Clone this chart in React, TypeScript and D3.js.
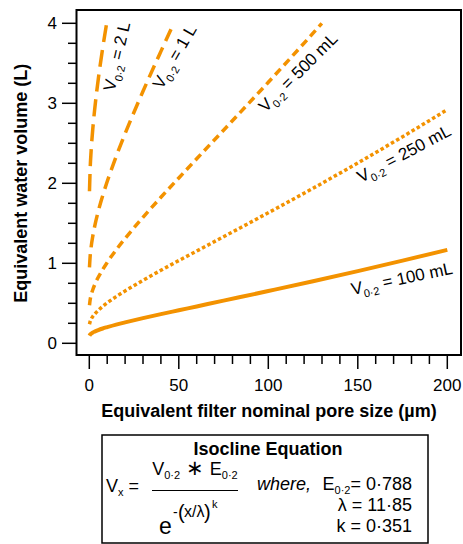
import * as d3 from 'd3';

/* ── data ── */
const poreSize = [0.1, 0.5, 1, 2, 3, 5, 7.5, 10, 15, 20, 30, 40, 50, 60, 75, 100, 125, 150, 175, 200];
const vol100 = [0.095, 0.11, 0.12, 0.135, 0.146, 0.165, 0.185, 0.202, 0.234, 0.262, 0.315, 0.365, 0.413, 0.461, 0.533, 0.653, 0.775, 0.902, 1.033, 1.168];
const vol250 = [0.238, 0.274, 0.3, 0.337, 0.365, 0.412, 0.462, 0.505, 0.584, 0.655, 0.787, 0.912, 1.034, 1.153, 1.332, 1.632, 1.938, 2.255, 2.582, 2.921];
const pore500 = [0.1, 0.5, 1, 2, 3, 5, 7.5, 10, 15, 20, 30, 40, 50, 60, 75, 100, 125, 129.9];
const vol500 = [0.475, 0.548, 0.6, 0.673, 0.731, 0.825, 0.923, 1.011, 1.168, 1.31, 1.575, 1.825, 2.067, 2.307, 2.664, 3.263, 3.877, 4.0];
const pore1L = [0.1, 0.5, 1, 2, 3, 5, 7.5, 10, 15, 20, 30, 40, 47.2];
const vol1L = [0.95, 1.095, 1.199, 1.346, 1.461, 1.65, 1.847, 2.022, 2.335, 2.621, 3.15, 3.649, 4.0];
const pore2L = [0.1, 0.5, 1, 2, 3, 5, 7.5, 9.7];
const vol2L = [1.9, 2.191, 2.398, 2.692, 2.922, 3.299, 3.694, 4.0];

const xTicks = [0, 50, 100, 150, 200];
const yTicks = [0, 1, 2, 3, 4];

const series = [
  { name: '100 mL', xs: poreSize, ys: vol100, dash: null, width: 4 },
  { name: '250 mL', xs: poreSize, ys: vol250, dash: '3.5,2.5', width: 3.5 },
  { name: '500 mL', xs: pore500, ys: vol500, dash: '8,5', width: 3.5 },
  { name: '1 L', xs: pore1L, ys: vol1L, dash: '13,7', width: 3.5 },
  { name: '2 L', xs: pore2L, ys: vol2L, dash: '17,8', width: 3.5 },
];

// label anchors (baseline start of the "V") and rotation
const labelPos = [
  { name: '100 mL', x: 352.5, y: 295, rot: -12 },
  { name: '250 mL', x: 361, y: 183, rot: -28 },
  { name: '500 mL', x: 265.5, y: 113, rot: -45 },
  { name: '1 L', x: 162, y: 90, rot: -60 },
  { name: '2 L', x: 114.5, y: 92, rot: -77 },
];

const ORANGE = '#f39200';
const FONT = 'Liberation Sans, Arial, Helvetica, sans-serif';

export default function App() {
  const x = d3.scaleLinear().domain([0, 200]).range([89.3, 447.3]);
  const y = d3.scaleLinear().domain([0, 4]).range([343.3, 23.3]);
  const xMinor = d3.range(0, 201, 10).filter(v => v % 50 !== 0);
  const yMinor = d3.range(0, 4.01, 0.25).filter(v => v % 1 !== 0);

  const line = d3.line<[number, number]>()
    .x(d => x(d[0]))
    .y(d => y(d[1]))
    .curve(d3.curveMonotoneX);

  const frameBottom = 355;

  return (
    <svg width={463} height={544} style={{ position: 'absolute', left: 0, top: 0, background: '#fff' }}
      fontFamily={FONT}>
      {/* curves */}
      {series.map(s => (
        <path key={s.name}
          d={line(s.xs.map((v, i) => [v, s.ys[i]] as [number, number])) || ''}
          fill="none" stroke={ORANGE} strokeWidth={s.width}
          strokeDasharray={s.dash || undefined} />
      ))}

      {/* frame */}
      <rect x={76.5} y={10} width={384.5} height={frameBottom - 10} fill="none" stroke="#000" strokeWidth={2} />

      {/* y axis ticks */}
      {yTicks.map(t => (
        <g key={'y' + t}>
          <line x1={62} x2={76} y1={y(t)} y2={y(t)} stroke="#000" strokeWidth={1.5} />
          <text x={57} y={y(t) + 6} textAnchor="end" fontSize={17}>{t}</text>
        </g>
      ))}
      {yMinor.map(t => (
        <line key={'ym' + t} x1={68} x2={76} y1={y(t)} y2={y(t)} stroke="#000" strokeWidth={1.5} />
      ))}

      {/* x axis ticks */}
      {xTicks.map(t => (
        <g key={'x' + t}>
          <line x1={x(t)} x2={x(t)} y1={frameBottom} y2={369} stroke="#000" strokeWidth={1.5} />
          <text x={x(t)} y={391} textAnchor="middle" fontSize={17}>{t}</text>
        </g>
      ))}
      {xMinor.map(t => (
        <line key={'xm' + t} x1={x(t)} x2={x(t)} y1={frameBottom} y2={364} stroke="#000" strokeWidth={1.5} />
      ))}

      {/* axis titles */}
      <text x={269} y={417} textAnchor="middle" fontSize={18} fontWeight="bold">
        Equivalent filter nominal pore size (µm)
      </text>
      <text transform={`translate(27,${y(2)}) rotate(-90)`} textAnchor="middle" fontSize={18} fontWeight="bold">
        Equivalent water volume (L)
      </text>

      {/* curve labels */}
      {labelPos.map(l => (
        <text key={'l' + l.name} transform={`translate(${l.x},${l.y}) rotate(${l.rot})`} fontSize={17}>
          <tspan>V</tspan>
          <tspan fontSize={11} dy={5}>0·2</tspan>
          <tspan dy={-5}>{' = ' + l.name}</tspan>
        </text>
      ))}

      {/* equation box */}
      <rect x={102} y={435} width={326} height={108} fill="#fff" stroke="#000" strokeWidth={1.5} />
      <text x={268} y={455} textAnchor="middle" fontSize={18} fontWeight="bold">Isocline Equation</text>
      <text x={106} y={492} fontSize={18}>
        <tspan>V</tspan>
        <tspan fontSize={11} dy={4}>x</tspan>
        <tspan dy={-4}>{' ='}</tspan>
      </text>
      <text x={195} y={475} textAnchor="middle" fontSize={18}>
        <tspan>V</tspan>
        <tspan fontSize={11} dy={4}>0·2</tspan>
        <tspan dy={-4} fontSize={21}>{' ∗ '}</tspan>
        <tspan>E</tspan>
        <tspan fontSize={11} dy={4}>0·2</tspan>
      </text>
      <line x1={152} x2={238} y1={490.5} y2={490.5} stroke="#000" strokeWidth={1.2} />
      <text x={159} y={534} fontSize={23}>e</text>
      <text x={173} y={517} fontSize={14}>-</text>
      <text x={178} y={519} fontSize={20} fontWeight="300">(</text>
      <text x={184} y={517} fontSize={16}>x/λ</text>
      <text x={204} y={519} fontSize={20} fontWeight="300">)</text>
      <text x={212} y={508} fontSize={11}>k</text>
      <text x={257} y={490} fontSize={18} fontStyle="italic">where,</text>
      <text x={412} y={490} textAnchor="end" fontSize={18}>
        <tspan>E</tspan>
        <tspan fontSize={11} dy={4}>0·2</tspan>
        <tspan dy={-4}>= 0·788</tspan>
      </text>
      <text x={412} y={511} textAnchor="end" fontSize={18}>λ = 11·85</text>
      <text x={412} y={532} textAnchor="end" fontSize={18}>k = 0·351</text>
    </svg>
  );
}
